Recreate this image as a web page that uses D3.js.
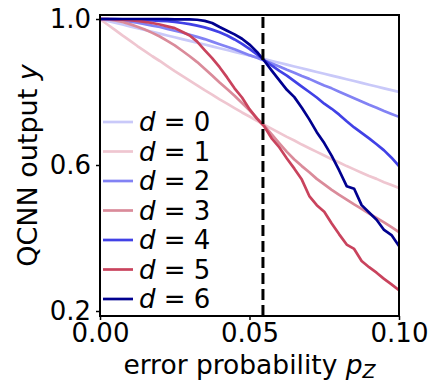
<!DOCTYPE html>
<meta charset="utf-8">
<style>
body { margin: 0; background: #fff; }
text { font-family: "DejaVu Sans", sans-serif; fill: #000; }
</style>
<body>
<div id="chart"></div>
<script src="https://d3js.org/d3.v7.min.js"></script>
<script>

// error probability grid (p_Z)
var pz = [0.0000, 0.0025, 0.0050, 0.0075, 0.0100, 0.0125, 0.0150, 0.0175, 0.0200, 0.0225,
          0.0250, 0.0275, 0.0300, 0.0325, 0.0350, 0.0375, 0.0400, 0.0425, 0.0450, 0.0475,
          0.0500, 0.0525, 0.0550, 0.0575, 0.0600, 0.0625, 0.0650, 0.0675, 0.0700, 0.0725,
          0.0750, 0.0775, 0.0800, 0.0825, 0.0850, 0.0875, 0.0900, 0.0925, 0.0950, 0.0975, 0.1000];

// QCNN output y, one array per depth d
var y_d0 = [1.000, 0.995, 0.990, 0.985, 0.980, 0.975, 0.970, 0.965, 0.960, 0.955,
            0.950, 0.945, 0.940, 0.935, 0.930, 0.925, 0.920, 0.915, 0.910, 0.905,
            0.900, 0.895, 0.890, 0.885, 0.880, 0.875, 0.870, 0.865, 0.860, 0.855,
            0.850, 0.845, 0.840, 0.835, 0.830, 0.825, 0.820, 0.815, 0.810, 0.805, 0.800];
var y_d1 = [1.000, 0.985, 0.970, 0.955, 0.941, 0.926, 0.912, 0.898, 0.885, 0.871,
            0.857, 0.844, 0.831, 0.818, 0.805, 0.793, 0.780, 0.768, 0.756, 0.744,
            0.733, 0.721, 0.710, 0.699, 0.688, 0.677, 0.667, 0.656, 0.646, 0.636,
            0.626, 0.616, 0.607, 0.597, 0.588, 0.579, 0.570, 0.562, 0.553, 0.545, 0.537];
var y_d2 = [1.000, 0.9995, 0.998, 0.996, 0.993, 0.990, 0.986, 0.982, 0.978, 0.973,
            0.968, 0.963, 0.957, 0.951, 0.945, 0.938, 0.931, 0.924, 0.917, 0.909,
            0.901, 0.894, 0.886, 0.878, 0.870, 0.861, 0.853, 0.844, 0.836, 0.827,
            0.818, 0.810, 0.801, 0.792, 0.783, 0.774, 0.765, 0.757, 0.748, 0.740, 0.732];
var y_d3 = [1.000, 0.999, 0.996, 0.992, 0.986, 0.979, 0.971, 0.962, 0.952, 0.940,
            0.928, 0.913, 0.898, 0.882, 0.864, 0.845, 0.826, 0.808, 0.790, 0.770,
            0.750, 0.728, 0.707, 0.683, 0.659, 0.636, 0.615, 0.597, 0.580, 0.562,
            0.547, 0.532, 0.518, 0.505, 0.492, 0.480, 0.467, 0.455, 0.443, 0.430, 0.416];
var y_d4 = [1.000, 1.000, 0.9995, 0.999, 0.998, 0.997, 0.9965, 0.996, 0.995, 0.994,
            0.992, 0.989, 0.986, 0.982, 0.977, 0.971, 0.964, 0.955, 0.944, 0.932,
            0.918, 0.903, 0.887, 0.872, 0.858, 0.845, 0.830, 0.815, 0.800, 0.785,
            0.768, 0.754, 0.738, 0.720, 0.703, 0.688, 0.673, 0.657, 0.640, 0.620, 0.597];
var y_d5 = [1.000, 1.000, 0.999, 0.998, 0.997, 0.995, 0.992, 0.989, 0.985, 0.980,
            0.975, 0.965, 0.955, 0.938, 0.915, 0.893, 0.868, 0.840, 0.810, 0.785,
            0.753, 0.727, 0.705, 0.672, 0.648, 0.618, 0.590, 0.560, 0.515, 0.490,
            0.472, 0.440, 0.410, 0.382, 0.370, 0.337, 0.320, 0.305, 0.288, 0.273, 0.257];
var y_d6 = [1.000, 1.000, 1.000, 1.000, 1.000, 1.000, 1.000, 1.000, 1.000, 0.9995,
            0.999, 0.999, 0.999, 0.998, 0.995, 0.989, 0.978, 0.968, 0.958, 0.946,
            0.930, 0.910, 0.885, 0.858, 0.832, 0.806, 0.786, 0.757, 0.725, 0.690,
            0.660, 0.625, 0.585, 0.542, 0.535, 0.490, 0.470, 0.450, 0.422, 0.408, 0.378];

var depths = ["0", "1", "2", "3", "4", "5", "6"];
var colors = ["#c9c9f9", "#efc6d0", "#8282f4", "#da8b9a", "#4141e6", "#c9435d", "#00008f"];
var series = [y_d0, y_d1, y_d2, y_d3, y_d4, y_d5, y_d6];

var xTicks = [0, 0.05, 0.1];
var yTicks = [0.2, 0.6, 1.0];
var threshold = 0.0545;

var width = 433, height = 383,
    margin = {left: 100, right: 34, top: 15, bottom: 67};

var x = d3.scaleLinear().domain([0, 0.1]).range([margin.left, width - margin.right]);
var y = d3.scaleLinear().domain([0.1863, 1.011]).range([height - margin.bottom, margin.top]);

var svg = d3.select("#chart").append("svg")
    .attr("width", width)
    .attr("height", height);

svg.append("clipPath").attr("id", "clip")
  .append("rect")
    .attr("x", margin.left).attr("y", margin.top)
    .attr("width", x.range()[1] - x.range()[0])
    .attr("height", y.range()[0] - y.range()[1]);

var line = d3.line()
    .x(function(d, i) { return x(pz[i]); })
    .y(function(d) { return y(d); });

svg.append("g").attr("clip-path", "url(#clip)")
  .selectAll("path")
  .data(series)
  .enter().append("path")
    .attr("d", line)
    .attr("fill", "none")
    .attr("stroke", function(d, i) { return colors[i]; })
    .attr("stroke-width", 2.7)
    .attr("stroke-linejoin", "round");

// threshold line
svg.append("line")
    .attr("x1", x(threshold)).attr("x2", x(threshold))
    .attr("y1", y.range()[0]).attr("y2", y.range()[1])
    .attr("stroke", "#000")
    .attr("stroke-width", 3)
    .attr("stroke-dasharray", "11,5");

// axes
var xAxis = svg.append("g")
    .attr("transform", "translate(0," + y.range()[0] + ")")
    .call(d3.axisBottom(x).tickValues(xTicks).tickFormat(d3.format(".2f")).tickSize(4).tickPadding(5));
var yAxis = svg.append("g")
    .attr("transform", "translate(" + margin.left + ",0)")
    .call(d3.axisLeft(y).tickValues(yTicks).tickFormat(d3.format(".1f")).tickSize(4).tickPadding(5));

[xAxis, yAxis].forEach(function(g) {
  g.select(".domain").remove();
  g.selectAll(".tick line").attr("stroke", "#000").attr("stroke-width", 1.5);
  g.selectAll(".tick text").style("font-size", "26px").attr("fill", "#000");
});
yAxis.selectAll(".tick text").attr("dy", "0.34em");
xAxis.selectAll(".tick text").attr("dy", "0.66em");

// frame
svg.append("rect")
    .attr("x", margin.left).attr("y", margin.top)
    .attr("width", x.range()[1] - x.range()[0])
    .attr("height", y.range()[0] - y.range()[1])
    .attr("fill", "none")
    .attr("stroke", "#000")
    .attr("stroke-width", 2);

// axis labels
var xl = svg.append("text")
    .attr("x", (x.range()[0] + x.range()[1]) / 2)
    .attr("y", 374)
    .attr("text-anchor", "middle")
    .style("font-size", "26.5px");
xl.append("tspan").text("error probability ");
xl.append("tspan").style("font-style", "italic").text("p");
xl.append("tspan").style("font-style", "italic").style("font-size", "19px").attr("dy", 4).text("Z");

var yl = svg.append("text")
    .attr("transform", "translate(37," + (y.range()[0] + y.range()[1]) / 2 + ") rotate(-90)")
    .attr("text-anchor", "middle")
    .style("font-size", "27px");
yl.append("tspan").text("QCNN output ");
yl.append("tspan").style("font-style", "italic").text("y");

// legend
var legend = svg.selectAll(".legend")
    .data(depths)
  .enter().append("g")
    .attr("class", "legend")
    .attr("transform", function(d, i) { return "translate(103," + (122 + i * 29.5) + ")"; });

legend.append("line")
    .attr("x1", 0).attr("x2", 30)
    .attr("stroke", function(d, i) { return colors[i]; })
    .attr("stroke-width", 2.7);

legend.append("text")
    .attr("x", 36)
    .attr("dy", "0.36em")
    .style("font-size", "26px")
    .each(function(d) {
      var t = d3.select(this);
      t.append("tspan").style("font-style", "italic").text("d");
      t.append("tspan").text(" = " + d);
    });

</script>
</body>
